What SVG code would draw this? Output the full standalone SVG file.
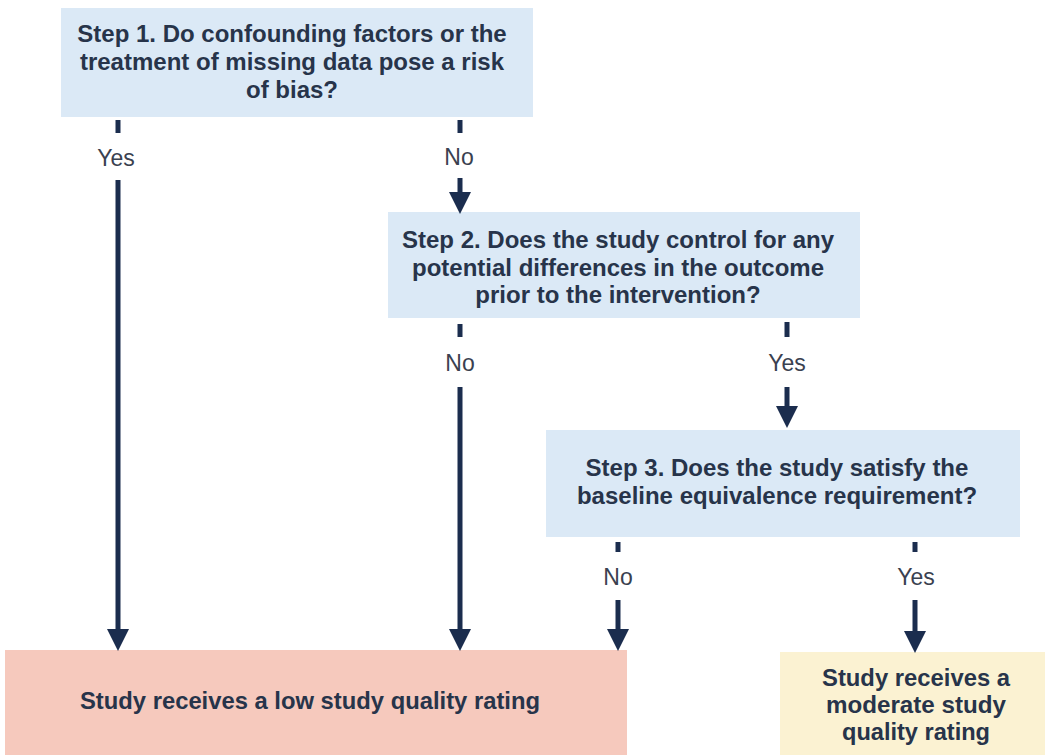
<svg xmlns="http://www.w3.org/2000/svg" width="1045" height="755" viewBox="0 0 1045 755">
<style>
.q{fill:#dbe9f6}
.t{font-family:"Liberation Sans",Arial,sans-serif;font-weight:bold;font-size:24px;fill:#27344a;text-anchor:middle}
.r{font-family:"Liberation Sans",Arial,sans-serif;font-weight:bold;font-size:24px;fill:#27344a;text-anchor:middle}
.l{font-family:"Liberation Sans",Arial,sans-serif;font-size:23px;fill:#3a4150;text-anchor:middle}
.c{stroke:#1b2d4e;stroke-width:5;fill:none}
</style>
<defs>
<marker id="ah" viewBox="0 0 10 10" refX="0" refY="5" markerUnits="userSpaceOnUse" markerWidth="22" markerHeight="22" orient="auto">
<path d="M0,0 L10,5 L0,10 z" fill="#1b2d4e"/>
</marker>
</defs>
<rect width="1045" height="755" fill="#ffffff"/>
<g id="step1">
<rect class="q" x="61" y="8" width="472" height="109"/>
<text class="t" x="292" y="42">Step 1. Do confounding factors or the</text>
<text class="t" x="292" y="70">treatment of missing data pose a risk</text>
<text class="t" x="292" y="98">of bias?</text>
</g>
<g id="step2">
<rect class="q" x="388" y="212" width="472" height="106"/>
<text class="t" x="618" y="248">Step 2. Does the study control for any</text>
<text class="t" x="618" y="276">potential differences in the outcome</text>
<text class="t" x="618" y="303">prior to the intervention?</text>
</g>
<g id="step3">
<rect class="q" x="546" y="430" width="474" height="107"/>
<text class="t" x="777" y="476">Step 3. Does the study satisfy the</text>
<text class="t" x="777" y="504">baseline equivalence requirement?</text>
</g>
<g id="low">
<rect x="5" y="650" width="622" height="105" fill="#f6c9bd"/>
<text class="r" x="310" y="709" textLength="460" lengthAdjust="spacingAndGlyphs">Study receives a low study quality rating</text>
</g>
<g id="moderate">
<rect x="780" y="652" width="265" height="103" fill="#fbf2d2"/>
<text class="r" x="916" y="686" textLength="188" lengthAdjust="spacingAndGlyphs">Study receives a</text>
<text class="r" x="916" y="713" textLength="180" lengthAdjust="spacingAndGlyphs">moderate study</text>
<text class="r" x="916" y="740" textLength="148" lengthAdjust="spacingAndGlyphs">quality rating</text>
</g>
<g id="connectors">
<line class="c" x1="118" y1="120" x2="118" y2="133"/>
<text class="l" x="116" y="166">Yes</text>
<line class="c" x1="118" y1="180" x2="118" y2="629" marker-end="url(#ah)"/>
<line class="c" x1="460" y1="120" x2="460" y2="133"/>
<text class="l" x="459" y="165">No</text>
<line class="c" x1="460" y1="178" x2="460" y2="192" marker-end="url(#ah)"/>
<line class="c" x1="460" y1="324" x2="460" y2="337"/>
<text class="l" x="460" y="371">No</text>
<line class="c" x1="460" y1="387" x2="460" y2="629" marker-end="url(#ah)"/>
<line class="c" x1="787" y1="322" x2="787" y2="337"/>
<text class="l" x="787" y="371">Yes</text>
<line class="c" x1="787" y1="387" x2="787" y2="406" marker-end="url(#ah)"/>
<line class="c" x1="618" y1="542" x2="618" y2="552"/>
<text class="l" x="618" y="585">No</text>
<line class="c" x1="618" y1="600" x2="618" y2="629" marker-end="url(#ah)"/>
<line class="c" x1="915" y1="542" x2="915" y2="552"/>
<text class="l" x="916" y="585">Yes</text>
<line class="c" x1="915" y1="600" x2="915" y2="631" marker-end="url(#ah)"/>
</g>
</svg>
